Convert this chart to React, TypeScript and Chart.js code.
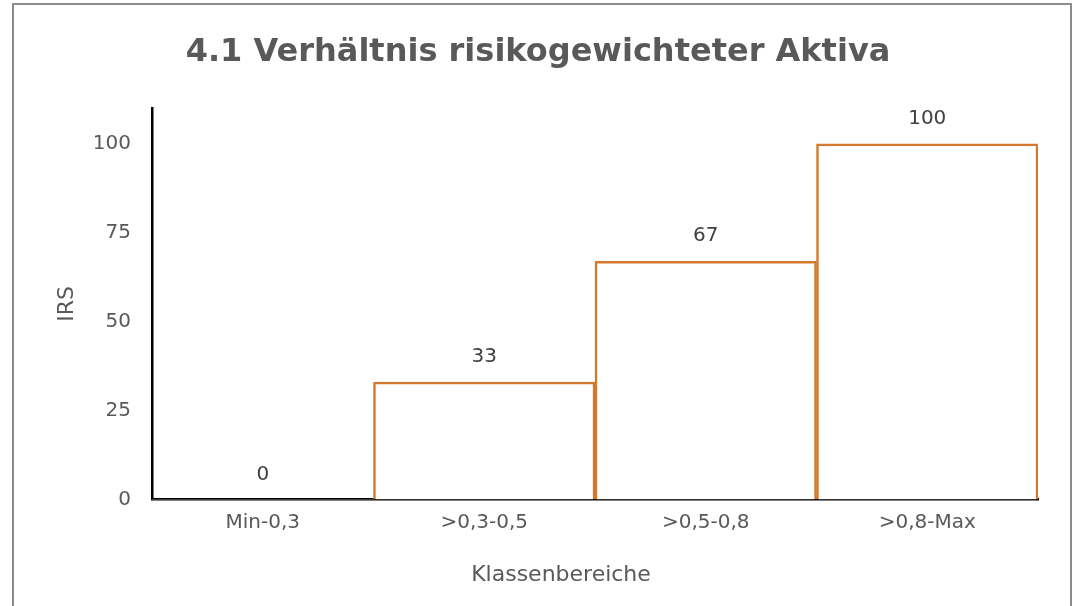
import React, { useEffect, useRef } from "react";
import { Chart, registerables } from "chart.js";

Chart.register(...registerables);

const categories = ["Min-0,3", ">0,3-0,5", ">0,5-0,8", ">0,8-Max"];
const irsValues = [0, 33, 67, 100];
const chartTitle = "4.1 Verhältnis risikogewichteter Aktiva";
const xTitle = "Klassenbereiche";
const yTitle = "IRS";

const FONT = "'DejaVu Sans', Verdana, sans-serif";
const TEXT = "#595959";
const ORANGE = "#D4782B";

const valueLabels = {
  id: "valueLabels",
  afterDatasetsDraw(chart: any) {
    const ctx = chart.ctx;
    const meta = chart.getDatasetMeta(0);
    ctx.save();
    ctx.font = `20px ${FONT}`;
    ctx.fillStyle = "#404040";
    ctx.textAlign = "center";
    ctx.textBaseline = "middle";
    meta.data.forEach((el: any, i: number) => {
      ctx.fillText(String(irsValues[i]), el.x, el.y - 25);
    });
    ctx.restore();
  },
};

const xAxisTitle = {
  id: "xAxisTitle",
  afterDraw(chart: any) {
    const ctx = chart.ctx;
    const area = chart.chartArea;
    ctx.save();
    ctx.font = `22px ${FONT}`;
    ctx.fillStyle = TEXT;
    ctx.textAlign = "center";
    ctx.textBaseline = "middle";
    ctx.fillText(xTitle, (area.left + area.right) / 2 - 34, chart.height - 31);
    ctx.restore();
  },
};

export default function App() {
  const ref = useRef<HTMLCanvasElement | null>(null);
  useEffect(() => {
    if (!ref.current) return;
    const chart = new Chart(ref.current, {
      type: "bar",
      data: {
        labels: categories,
        datasets: [
          {
            data: irsValues,
            backgroundColor: "#FFFFFF",
            borderColor: ORANGE,
            borderWidth: irsValues.map((v) => (v === 0 ? 0 : 2.5)),
            borderSkipped: "start",
            barPercentage: 1,
            categoryPercentage: 1,
          },
        ],
      },
      options: {
        responsive: false,
        animation: false,
        layout: { padding: { left: 0, right: 0, top: 0, bottom: 0 } },
        plugins: {
          legend: { display: false },
          tooltip: { enabled: false },
          title: {
            display: true,
            text: chartTitle,
            color: TEXT,
            font: { family: FONT, size: 32, weight: "bold" },
            padding: { top: 33, bottom: 37 },
          },
        },
        scales: {
          x: {
            grid: { display: false, drawTicks: false },
            border: { color: "#000000", width: 2.5 },
            ticks: { color: TEXT, font: { family: FONT, size: 20 }, padding: 11 },
            afterFit(scale: any) {
              scale.height = 106.5;
            },
          },
          y: {
            min: 0,
            max: 110,
            grid: { display: false, drawTicks: false },
            border: { color: "#000000", width: 2.5 },
            ticks: {
              stepSize: 25,
              includeBounds: false,
              color: TEXT,
              font: { family: FONT, size: 20 },
              padding: 21,
            },
            title: {
              display: true,
              text: yTitle,
              color: TEXT,
              font: { family: FONT, size: 22 },
              padding: { top: 54, bottom: 20 },
            },
            afterFit(scale: any) {
              scale.width = 152;
            },
          },
          yRight: {
            position: "right",
            display: true,
            grid: { display: false, drawTicks: false },
            border: { display: false },
            ticks: { display: false },
            afterFit(scale: any) {
              scale.width = 38;
            },
          },
        },
      } as any,
      plugins: [valueLabels, xAxisTitle],
    });
    return () => chart.destroy();
  }, []);

  return (
    <div
      style={{
        position: "fixed",
        left: 0,
        top: 0,
        width: 1076,
        height: 606,
        overflow: "hidden",
        background: "#FFFFFF",
      }}
    >
      <canvas ref={ref} width={1076} height={606} style={{ position: "absolute", left: 0, top: 0 }} />
      <div
        style={{
          position: "absolute",
          left: 12,
          top: 3,
          width: 1056,
          height: 700,
          border: "2px solid #8C8C8C",
          pointerEvents: "none",
        }}
      />
    </div>
  );
}
